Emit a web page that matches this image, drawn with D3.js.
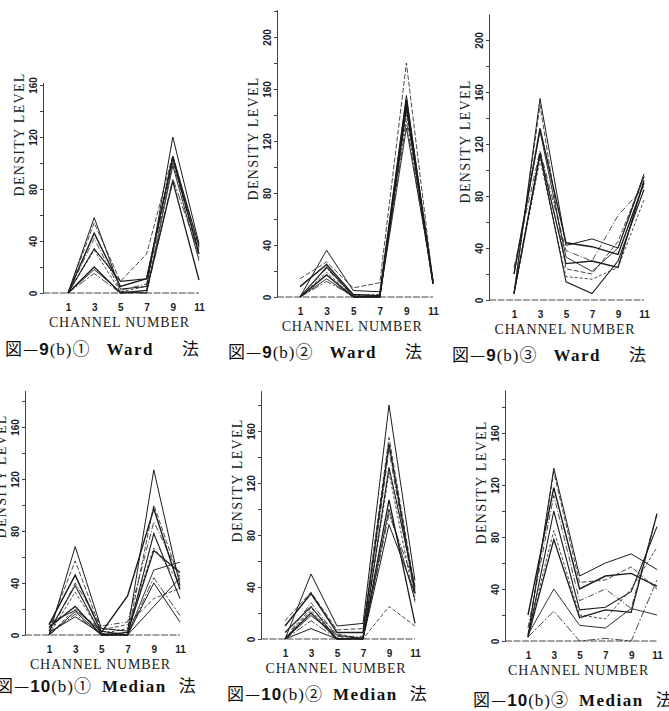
<!DOCTYPE html>
<html>
<head>
<meta charset="utf-8">
<script src="https://cdnjs.cloudflare.com/ajax/libs/d3/7.8.5/d3.min.js"></script>
<style>
  body { margin: 0; background: #fff; }
  svg { display: block; }
  .axis path, .axis line { stroke: #2a2a2a; stroke-width: 0.9; }
  .axis .tick text { font-family: "Liberation Sans", sans-serif; font-weight: bold; font-size: 10px; fill: #222; }
  .label { font-family: "Liberation Serif", serif; font-size: 14px; fill: #222; letter-spacing: 0.8px; }
  .ylabel { letter-spacing: 1.3px; }
  .caption { font-family: "Liberation Serif", "Noto Sans CJK JP", serif; font-size: 17px; fill: #111; }
  .cjk { font-family: "Noto Sans CJK JP", sans-serif; }
  .series { fill: none; stroke: #1c1c1c; stroke-linejoin: miter; }
</style>
</head>
<body>
<svg id="chart" width="669" height="711"></svg>
<script>
var channels = [1, 3, 5, 7, 9, 11];

// density level per channel, one row per cluster (Ward)
var ward1 = [
  [0, 58, 3, 5, 120, 38],
  [0, 54, 9, 30, 106, 35],
  [0, 46, 5, 11, 104, 30],
  [0, 42, 2, 7, 102, 28],
  [0, 34, 9, 11, 105, 36],
  [0, 33, 1, 5, 100, 33],
  [0, 20, 0, 2, 86, 10],
  [0, 18, 1, 0, 98, 25],
  [0, 15, 0, 0, 88, 30]
];
var ward2 = [
  [0, 36, 5, 4, 155, 10],
  [14, 27, 7, 11, 180, 12],
  [8, 25, 2, 1, 152, 11],
  [0, 22, 0, 0, 150, 10],
  [0, 23, 1, 0, 148, 12],
  [0, 19, 0, 1, 140, 11],
  [0, 17, 0, 0, 145, 10],
  [0, 14, 0, 0, 130, 13],
  [0, 12, 1, 2, 135, 10]
];
var ward3 = [
  [5, 155, 42, 47, 40, 97],
  [5, 150, 24, 20, 45, 95],
  [20, 132, 44, 41, 35, 90],
  [25, 115, 38, 30, 65, 87],
  [5, 112, 14, 5, 30, 85],
  [5, 108, 18, 16, 25, 77],
  [5, 113, 28, 30, 25, 92],
  [20, 130, 33, 22, 40, 95]
];

// density level per channel, one row per cluster (Median)
var median1 = [
  [0, 68, 5, 3, 127, 38],
  [5, 57, 3, 0, 100, 42],
  [8, 46, 2, 30, 97, 35],
  [0, 40, 7, 10, 87, 45],
  [3, 38, 0, 0, 78, 28],
  [0, 33, 1, 5, 67, 40],
  [6, 22, 0, 2, 65, 48],
  [9, 19, 3, 0, 50, 56],
  [0, 16, 0, 0, 44, 15],
  [2, 14, 1, 0, 40, 10],
  [0, 20, 4, 8, 28, 36],
  [0, 18, 0, 0, 22, 44]
];
var median2 = [
  [0, 50, 10, 12, 180, 45],
  [14, 36, 7, 8, 155, 38],
  [10, 35, 5, 5, 150, 35],
  [0, 28, 2, 2, 145, 32],
  [5, 25, 0, 0, 132, 40],
  [0, 22, 1, 0, 128, 28],
  [0, 20, 0, 1, 107, 12],
  [0, 18, 3, 0, 100, 30],
  [0, 14, 0, 0, 96, 42],
  [0, 8, 0, 0, 88, 35],
  [0, 24, 4, 0, 25, 10]
];
var median3 = [
  [3, 133, 50, 60, 67, 55],
  [5, 130, 45, 47, 57, 40],
  [20, 118, 40, 50, 52, 42],
  [10, 112, 31, 40, 25, 98],
  [3, 100, 24, 26, 38, 88],
  [5, 85, 20, 17, 40, 72],
  [3, 78, 18, 24, 22, 98],
  [5, 40, 12, 10, 25, 20],
  [3, 23, 0, 2, 0, 47]
];

var figNumbers = ["9", "9", "9", "10", "10", "10"];
var circled = ["①", "②", "③", "①", "②", "③"];
var methods = ["Ward", "Ward", "Ward", "Median", "Median", "Median"];
var xTitle = "CHANNEL NUMBER";
var yTitle = "DENSITY LEVEL";

// where each small plot sits on the page (the scan is slightly tilted)
var panels = [
  {data: ward1,   ax: 43,  x1: 68,  x11: 199, y0: 293, top: 162, cap: [5, 355],   gaps: [16, 28]},
  {data: ward2,   ax: 277, x1: 300, x11: 433, y0: 297, top: 221, cap: [228, 358], gaps: [16, 28]},
  {data: ward3,   ax: 489, x1: 514, x11: 644, y0: 300, top: 220, cap: [452, 361], gaps: [16, 28]},
  {data: median1, ax: 25,  x1: 49,  x11: 180, y0: 635, top: 188, cap: [-4, 692],  gaps: [10, 12]},
  {data: median2, ax: 261, x1: 285, x11: 415, y0: 639, top: 191, cap: [227, 700], gaps: [10, 12]},
  {data: median3, ax: 505, x1: 528, x11: 657, y0: 641, top: 193, cap: [473, 706], gaps: [10, 12]}
];

var dashes = [null, '5,2', null, '6,2,1,2', null, '3,2', null, null, '8,2,2,2', null, '4,2', null];
var widths = [1, 0.8, 1.4, 0.8, 1.1, 0.8, 1.3, 0.9, 0.8, 1, 0.8, 1];
var pxPerUnit = 1.3;

var svg = d3.select('#chart');

panels.forEach(function (p, i) { drawPanel(svg, p, i); });

function drawPanel(svg, p, i) {
  var g = svg.append('g').attr('class', 'panel');

  var x = d3.scaleLinear().domain([1, 11]).range([p.x1, p.x11]);
  var y = d3.scaleLinear().domain([0, p.top]).range([p.y0, p.y0 - pxPerUnit * p.top]);

  // zero line, runs from the axis to the last channel
  g.append('line')
   .attr('x1', p.ax).attr('x2', x(11))
   .attr('y1', y(0)).attr('y2', y(0))
   .style('stroke', '#333')
   .style('stroke-width', 0.9)
   .style('stroke-dasharray', '7,1.5');

  var yAxis = d3.axisLeft(y)
    .tickValues(d3.range(0, p.top, 20))
    .tickSize(3)
    .tickSizeOuter(0)
    .tickFormat(function (d) { return d % 40 === 0 ? d : ''; });

  var ay = g.append('g')
    .attr('class', 'axis')
    .attr('transform', 'translate(' + p.ax + ',0)')
    .call(yAxis);

  ay.selectAll('.tick text')
    .attr('transform', 'rotate(-90)')
    .attr('x', 0)
    .attr('y', -6)
    .attr('dy', 0)
    .attr('text-anchor', 'middle');

  var xAxis = d3.axisBottom(x)
    .tickValues(channels)
    .tickSize(0)
    .tickPadding(11);

  var ax = g.append('g')
    .attr('class', 'axis')
    .attr('transform', 'translate(0,' + p.y0 + ')')
    .call(xAxis);
  ax.select('.domain').remove();

  g.append('text')
   .attr('class', 'label')
   .attr('x', x(5) - 1)
   .attr('y', p.y0 + 34)
   .attr('text-anchor', 'middle')
   .text(xTitle);

  g.append('text')
   .attr('class', 'label ylabel')
   .attr('text-anchor', 'middle')
   .attr('transform', 'translate(' + (p.ax - 19) + ',' + y(122) + ') rotate(-90)')
   .text(yTitle);

  var line = d3.line()
    .x(function (d, k) { return x(channels[k]); })
    .y(function (d) { return y(d); });

  g.selectAll('.series')
   .data(p.data)
   .enter()
   .append('path')
   .attr('class', 'series')
   .attr('d', line)
   .style('stroke-width', function (d, k) { return widths[k % widths.length]; })
   .style('stroke-dasharray', function (d, k) { return dashes[k % dashes.length]; });

  // caption, e.g. 図—9(b)① Ward 法
  var cap = g.append('text')
    .attr('class', 'caption')
    .attr('x', p.cap[0])
    .attr('y', p.cap[1])
    .style('letter-spacing', '1px');
  cap.append('tspan').attr('class', 'cjk').text('図—');
  cap.append('tspan')
     .style('font-family', '"Liberation Sans", sans-serif')
     .style('font-weight', 'bold')
     .text(figNumbers[i]);
  cap.append('tspan').text('(b)');
  cap.append('tspan').attr('class', 'cjk').text(circled[i]);
  cap.append('tspan')
     .attr('dx', p.gaps[0])
     .style('font-weight', 'bold')
     .style('letter-spacing', '1.5px')
     .text(methods[i]);
  cap.append('tspan').attr('class', 'cjk').attr('dx', p.gaps[1]).text('法');
}
</script>
</body>
</html>
